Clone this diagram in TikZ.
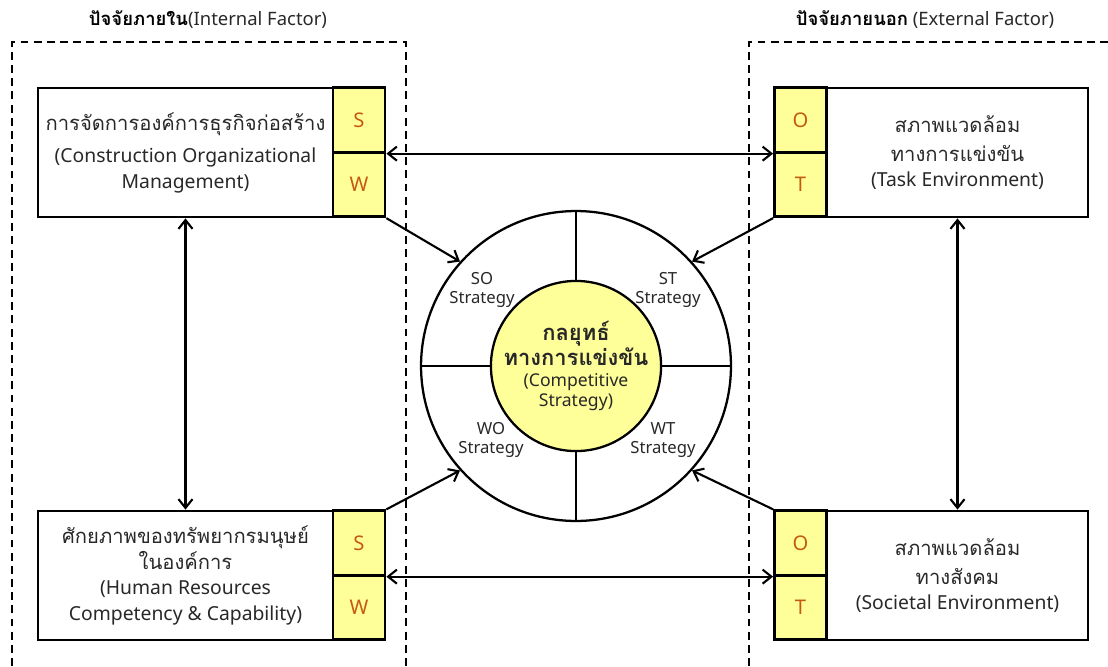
\documentclass[tikz,border=0pt]{standalone}
\usepackage{fontspec}
\setmainfont{Noto Sans}
\newfontfamily\thaifont[Script=Thai]{Loma}
\usetikzlibrary{arrows.meta}
\definecolor{cellyellow}{RGB}{255,255,153}
\definecolor{letterbrown}{RGB}{197,90,17}
\definecolor{textgray}{RGB}{40,40,40}
\tikzset{
  factorbox/.style={draw, line width=1.6pt, minimum width=5.9cm, minimum height=2.58cm,
    inner sep=0pt, align=center, text=textgray, font=\fontsize{11}{14.5}\selectfont},
  swotcell/.style={draw, line width=1.6pt, fill=cellyellow, minimum width=1.04cm,
    minimum height=1.29cm, inner sep=0pt, text=letterbrown, font=\fontsize{11.5}{13}\selectfont},
  linkarrow/.style={line width=1.2pt, {Straight Barb[length=5pt,width=8pt]}-{Straight Barb[length=5pt,width=8pt]}},
  intoarrow/.style={line width=1.2pt, -{Straight Barb[length=5pt,width=8pt]}},
  zoneline/.style={line width=0.8pt, dash pattern=on 4.5pt off 3pt},
  quadlabel/.style={align=center, text=textgray, font=\fontsize{9.5}{11}\selectfont},
}
\newcommand{\thai}[1]{{\thaifont\fontsize{11.5}{14.5}\selectfont #1}}
\newcommand{\thaibold}[1]{{\thaifont\bfseries\fontsize{12.5}{13}\selectfont #1}}
\begin{document}
\begin{tikzpicture}[x=0.02cm, y=-0.02cm]
\useasboundingbox (0, 0) rectangle (1108, 666);
% zones
\draw [zoneline] (12, 666) -- (12, 42) -- (406, 42) -- (406, 666);
\draw [zoneline] (749, 666) -- (749, 42) -- (1108, 42);
\node (intitle) at (208, 20) [font=\fontsize{10.5}{12}\selectfont] {{\thaifont\bfseries ปัจจัยภายใน}\textcolor{textgray}{(Internal Factor)}};
\node (extitle) at (925, 20) [font=\fontsize{10.5}{12}\selectfont] {{\thaifont\bfseries ปัจจัยภายนอก} \textcolor{textgray}{(External Factor)}};
% internal factors
\node (org) at (185.5, 152.5) [factorbox] {\thai{การจัดการองค์การธุรกิจก่อสร้าง}\\[4pt](Construction Organizational\\Management)};
\node (orgS) at (359, 120) [swotcell] {S};
\node (orgW) at (359, 184.5) [swotcell] {W};
\node (hr) at (185.5, 575.5) [factorbox] {\thai{ศักยภาพของทรัพยากรมนุษย์}\\\thai{ในองค์การ}\\(Human Resources\\Competency \& Capability)};
\node (hrS) at (359, 543) [swotcell] {S};
\node (hrW) at (359, 607.5) [swotcell] {W};
% external factors
\node (task) at (957.5, 152.5) [factorbox, minimum width=5.22cm] {\thai{สภาพแวดล้อม}\\[2pt]\thai{ทางการแข่งขัน}\\(Task Environment)};
\node (taskO) at (800.5, 120) [swotcell] {O};
\node (taskT) at (800.5, 184.5) [swotcell] {T};
\node (soc) at (957.5, 575.5) [factorbox, minimum width=5.22cm] {\thai{สภาพแวดล้อม}\\[2pt]\thai{ทางสังคม}\\(Societal Environment)};
\node (socO) at (800.5, 543) [swotcell] {O};
\node (socT) at (800.5, 607.5) [swotcell] {T};
% strategy wheel
\node (wheel) at (576, 366) [circle, draw, line width=1.3pt, minimum size=6.2cm] {};
\node (core) at (576, 366) [circle, draw, line width=1.3pt, fill=cellyellow, minimum size=3.28cm,
  inner sep=0pt, align=center, font=\fontsize{10}{11.5}\selectfont, text=textgray] {\thaibold{กลยุทธ์}\\\thaibold{ทางการแข่งขัน}\\(Competitive\\Strategy)};
\draw [line width=1.3pt] (wheel.north) -- (core.north);
\draw [line width=1.3pt] (wheel.south) -- (core.south);
\draw [line width=1.3pt] (wheel.west) -- (core.west);
\draw [line width=1.3pt] (wheel.east) -- (core.east);
\node (so) at (482, 290) [quadlabel] {SO\\Strategy};
\node (st) at (668, 290) [quadlabel] {ST\\Strategy};
\node (wo) at (491, 440) [quadlabel] {WO\\Strategy};
\node (wt) at (663, 440) [quadlabel] {WT\\Strategy};
% links
\draw [linkarrow] (orgS.south east) -- (taskO.south west);
\draw [linkarrow] (hrS.south east) -- (socO.south west);
\draw [linkarrow] (org.south) -- (hr.north);
\draw [linkarrow] (task.south) -- (soc.north);
\draw [intoarrow] (orgW.south east) -- (wheel.138);
\draw [intoarrow] (taskT.south west) -- (wheel.42);
\draw [intoarrow] (hrS.north east) -- (wheel.222);
\draw [intoarrow] (socO.north west) -- (wheel.318);
\end{tikzpicture}
\end{document}
